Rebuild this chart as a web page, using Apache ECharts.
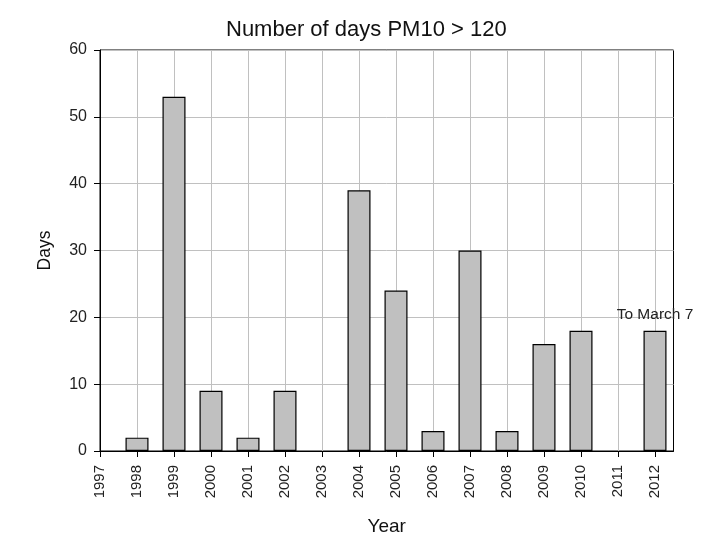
<!DOCTYPE html>
<html>
<head>
<meta charset="utf-8">
<script src="https://cdn.jsdelivr.net/npm/echarts@6/dist/echarts.min.js"></script>
<style>html,body{margin:0;padding:0;background:#fff;}#c{width:711px;height:545px;}</style>
</head>
<body>
<div id="c"></div>
<script>
const years = [1997,1998,1999,2000,2001,2002,2003,2004,2005,2006,2007,2008,2009,2010,2011,2012];
const days  = [0,2,53,9,2,9,0,39,24,3,30,3,16,18,0,18];
const yTicks = [0,10,20,30,40,50,60];
const note = 'To March 7';
const noteYear = 2012;

const font = '"Liberation Sans", Arial, sans-serif';
const chart = echarts.init(document.getElementById('c'));
chart.setOption({
  animation: false,
  backgroundColor: '#fff',
  title: {
    text: 'Number of days PM10 > 120',
    left: 221, top: 14,
    textStyle: {fontFamily: font, fontSize: 22, fontWeight: 'normal', color: '#111'}
  },
  grid: {left: 100, right: 37.5, top: 50, bottom: 94, show: true, borderColor: '#000', borderWidth: 1, backgroundColor: 'transparent'},
  xAxis: {
    type: 'value', min: 1997, max: 2012.5, interval: 1,
    name: 'Year', nameLocation: 'middle', nameGap: 66,
    nameTextStyle: {fontFamily: font, fontSize: 19, color: '#111'},
    axisLine: {lineStyle: {color: '#000', width: 1}},
    axisTick: {show: true, length: 6, lineStyle: {color: '#000'}, customValues: years},
    axisLabel: {rotate: 90, margin: 14, fontFamily: font, fontSize: 15, color: '#222', customValues: years,
      formatter: v => String(v)},
    splitLine: {show: true, lineStyle: {color: '#c0c0c0', width: 1}}
  },
  yAxis: {
    type: 'value', min: 0, max: 60, interval: 10,
    data: yTicks,
    name: 'Days', nameLocation: 'middle', nameGap: 46, nameRotate: 90,
    nameTextStyle: {fontFamily: font, fontSize: 17.5, color: '#111'},
    axisLine: {show: true, lineStyle: {color: '#000', width: 1}},
    axisTick: {show: true, length: 6, lineStyle: {color: '#000'}},
    axisLabel: {margin: 13, fontFamily: font, fontSize: 16, color: '#222'},
    splitLine: {show: true, lineStyle: {color: '#c0c0c0', width: 1}}
  },
  series: [{
    type: 'bar',
    barWidth: 23,
    data: years.map((y, i) => ({
      value: [y, days[i]],
      label: y === noteYear ? {show: true, position: 'top', distance: 8, formatter: note,
        fontFamily: font, fontSize: 15.5, color: '#222'} : {show: false}
    })).filter(d => d.value[1] > 0),
    itemStyle: {color: '#c0c0c0', borderColor: '#000', borderWidth: 1.2}
  }]
});
</script>
</body>
</html>
